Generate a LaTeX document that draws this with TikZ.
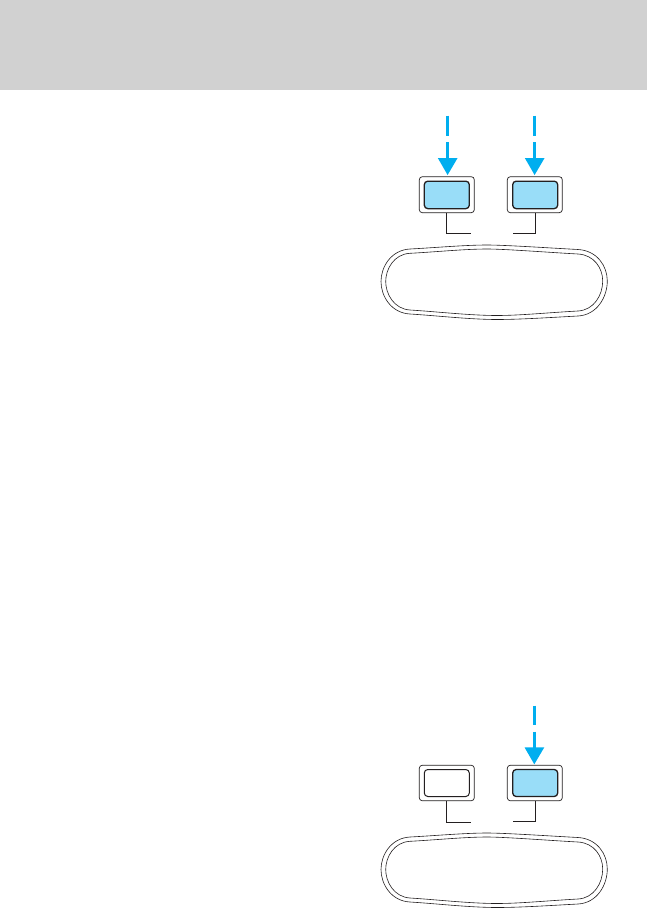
\documentclass[tikz,border=0pt]{standalone}
\definecolor{hdr}{HTML}{D1D1D1}
\definecolor{arrowblue}{HTML}{00AEEF}
\definecolor{btnblue}{HTML}{99DDF8}
\definecolor{ink}{HTML}{231F20}
\tikzset{
 outerbtn/.style={draw=ink,line width=0.7pt,rounded corners=3pt,fill=white},
 innerbtn/.style={draw=ink,line width=1.3pt,rounded corners=3.5pt},
 leader/.style={draw=ink,line width=0.9pt},
 mirrorline/.style={draw=ink,line width=0.6pt},
 arrowline/.style={draw=arrowblue,line width=3pt},
 arrowhead/.style={fill=arrowblue,draw=none},
}
\newcommand{\mirrorpair}{%
 \draw[mirrorline] (410,249) .. controls (435,247.7) and (465,245) .. (487,245)
   .. controls (505,245) and (550,248) .. (578,249.5)
   .. controls (597,250.5) and (607.3,266) .. (607.3,281)
   .. controls (607.3,297) and (597,315) .. (578,316)
   .. controls (550,317.5) and (520,319.5) .. (497,319.5)
   .. controls (470,319.5) and (435,315.5) .. (410,314)
   .. controls (391,313) and (381,296) .. (381,281.5)
   .. controls (381,267) and (391,250) .. (410,249) -- cycle;
 \draw[mirrorline] (410,253.3) .. controls (435,252) and (465,249) .. (487,249)
   .. controls (505,249) and (550,252.5) .. (578,254)
   .. controls (594,254.9) and (602.7,268) .. (602.7,281)
   .. controls (602.7,295) and (594,310.1) .. (578,311)
   .. controls (550,312.5) and (520,315.5) .. (497,315.5)
   .. controls (470,315.5) and (435,311.5) .. (410,310)
   .. controls (394,309) and (385.7,294) .. (385.7,281.5)
   .. controls (385.7,269) and (394,254.1) .. (410,253.3) -- cycle;
}
\begin{document}
\begin{tikzpicture}[x=1pt,y=-1pt]
\useasboundingbox (0,0) rectangle (647,908);
\fill[hdr] (0,0) rectangle (647,90);
% top group
\node[outerbtn,minimum width=55pt,minimum height=36pt,inner sep=0pt] (lo) at (446.8,194.7) {};
\node[innerbtn,fill=btnblue,minimum width=45pt,minimum height=27.5pt,inner sep=0pt] (li) at (446.8,194.9) {};
\node[outerbtn,minimum width=55pt,minimum height=36pt,inner sep=0pt] (ro) at (534.8,194.7) {};
\node[innerbtn,fill=btnblue,minimum width=45pt,minimum height=27.5pt,inner sep=0pt] (ri) at (535.2,194.9) {};
\coordinate (lc) at (471,233.3);
\coordinate (rc) at (513.3,233.3);
\draw[leader] (lo.south) |- (lc);
\draw[leader] (ro.south) ++(0.9,0) |- (rc);
\coordinate (la) at (447.3,115.7); \coordinate (lb) at (447.3,135.7);
\coordinate (lc2) at (447.3,142.3); \coordinate (ld) at (447.3,160);
\coordinate (ra) at (534.3,115.7); \coordinate (rb) at (534.3,135.7);
\coordinate (rc2) at (534.3,142.3); \coordinate (rd) at (534.3,160);
\draw[arrowline] (la) -- (lb); \draw[arrowline] (lc2) -- (ld);
\draw[arrowline] (ra) -- (rb); \draw[arrowline] (rc2) -- (rd);
\fill[arrowhead] (437.8,158) -- (457.6,158) -- (447.6,175) -- cycle;
\fill[arrowhead] (524.8,158) -- (544.6,158) -- (534.6,175) -- cycle;
\mirrorpair
% bottom group
\node[outerbtn,minimum width=55pt,minimum height=35.5pt,inner sep=0pt] (blo) at (446.8,783) {};
\node[innerbtn,line width=1pt,fill=white,minimum width=45pt,minimum height=27pt,inner sep=0pt] (bli) at (446.8,783) {};
\node[outerbtn,minimum width=55pt,minimum height=35.5pt,inner sep=0pt] (bro) at (534.8,783) {};
\node[innerbtn,fill=btnblue,minimum width=45pt,minimum height=27pt,inner sep=0pt] (bri) at (535.2,783) {};
\coordinate (blc) at (471,822.3);
\coordinate (brc) at (513.3,821.5);
\draw[leader] (blo.south) |- (blc);
\draw[leader] (bro.south) ++(0.9,0) |- (brc);
\coordinate (bra) at (534,705.7); \coordinate (brb) at (534,725);
\coordinate (brc2) at (534,731.7); \coordinate (brd) at (534,749);
\draw[arrowline] (bra) -- (brb); \draw[arrowline] (brc2) -- (brd);
\fill[arrowhead] (524.5,747.3) -- (544.3,747.3) -- (534.3,764.3) -- cycle;
\begin{scope}[yshift=-588pt]
\mirrorpair
\end{scope}
\end{tikzpicture}
\end{document}
